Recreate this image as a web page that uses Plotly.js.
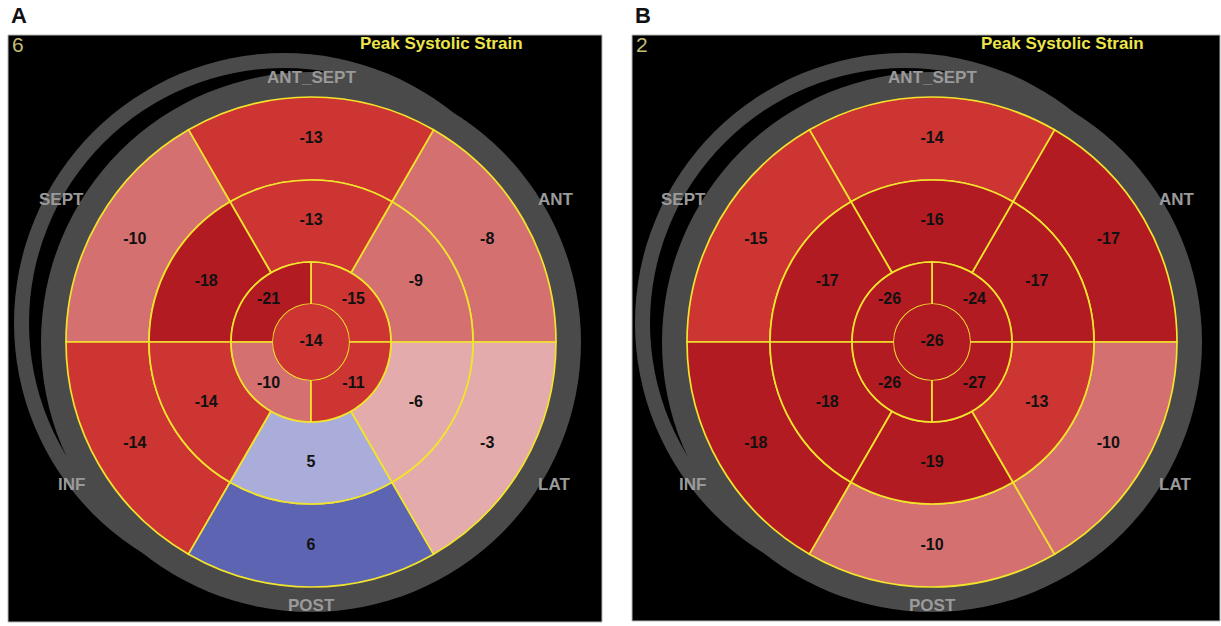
<!DOCTYPE html>
<html><head><meta charset="utf-8">
<script src="https://cdn.plot.ly/plotly-3.0.1.min.js"></script>
<style>html,body{margin:0;padding:0;background:#fff;}#chart{width:1221px;height:626px;}</style>
</head><body><div id="chart"></div>
<script>
// ---------------- DATA ----------------
const panelLetters = ['A', 'B'];
const frameNumbers = ['6', '2'];
const chartTitle = 'Peak Systolic Strain';
const wallLabels = ['ANT_SEPT', 'ANT', 'LAT', 'POST', 'INF', 'SEPT'];

// segment centre angles (degrees, counter-clockwise from 3 o'clock)
const basalAngles = [30, 90, 150, 210, 270, 330];
const midAngles = [30, 90, 150, 210, 270, 330];
const apicalAngles = [45, 135, 225, 315];
const apexAngles = [0];

// Panel A strain values (%)
const basalA = [-8, -13, -10, -14, 6, -3];
const midA = [-9, -13, -18, -14, 5, -6];
const apicalA = [-15, -21, -10, -11];
const apexA = [-14];

// Panel B strain values (%)
const basalB = [-17, -14, -15, -18, -10, -10];
const midB = [-17, -16, -17, -18, -19, -13];
const apicalB = [-24, -26, -26, -27];
const apexB = [-26];

// ---------------- STYLE / GEOMETRY ----------------
const W = 1221, H = 626;
const X = px => px / W;
const Y = py => 1 - py / H;
const R_MAX = 247;
const centers = [[311, 342], [932, 342]];
const rings = {apex: [0, 38], apical: [38, 80], mid: [80, 162], basal: [162, 245]};
const YELLOW = '#f2e42c';
const DK = '#b31b22', RED = '#cc3531', SAL = '#d4706f', PINK = '#e3abab', LAV = '#aaadd9', BLUE = '#5d64b2';
const CMIN = -30, CMAX = 10;
const nz = v => (v - CMIN) / (CMAX - CMIN);
const colorscale = [
  [0, DK], [nz(-15.5), DK], [nz(-15.5), RED], [nz(-10.5), RED], [nz(-10.5), SAL],
  [nz(-6.5), SAL], [nz(-6.5), PINK], [nz(-0.5), PINK], [nz(-0.5), LAV],
  [nz(5.5), LAV], [nz(5.5), BLUE], [1, BLUE]
];
const numFont = {family: 'Arial, "Liberation Sans", sans-serif', size: 16, color: '#111', weight: 'bold'};

const panels = [
  {basal: basalA, mid: midA, apical: apicalA, apex: apexA},
  {basal: basalB, mid: midB, apical: apicalB, apex: apexB}
];

const traces = [];
panels.forEach((p, i) => {
  const sub = i === 0 ? 'polar' : 'polar2';
  const ringDefs = [
    ['basal', p.basal, basalAngles, 60],
    ['mid', p.mid, midAngles, 60],
    ['apical', p.apical, apicalAngles, 90],
    ['apex', p.apex, apexAngles, 360]
  ];
  ringDefs.forEach(([name, vals, angs, w]) => {
    const [r0, r1] = rings[name];
    traces.push({
      type: 'barpolar', subplot: sub,
      theta: angs, r: vals.map(() => r1 - r0), base: vals.map(() => r0),
      width: vals.map(() => w),
      marker: {color: vals, colorscale: colorscale, cmin: CMIN, cmax: CMAX, showscale: false,
               line: {color: YELLOW, width: name === 'apex' ? 0 : 1.7}},
      hoverinfo: 'skip', showlegend: false
    });
  });
  ringDefs.forEach(([name, vals, angs]) => {
    const [r0, r1] = rings[name];
    const rm = name === 'apex' ? 0 : (name === 'apical' ? 60 : (r0 + r1) / 2);
    traces.push({
      type: 'scatterpolar', subplot: sub, mode: 'text',
      theta: angs, r: vals.map(() => rm), text: vals.map(String),
      textfont: numFont, cliponaxis: false, hoverinfo: 'skip', showlegend: false
    });
  });
});

function polarLayout(cx, cy) {
  return {
    domain: {x: [X(cx - R_MAX), X(cx + R_MAX)], y: [Y(cy + R_MAX), Y(cy - R_MAX)]},
    bgcolor: 'rgba(0,0,0,0)', hole: 0,
    radialaxis: {range: [0, R_MAX], visible: false, showgrid: false, showline: false, showticklabels: false},
    angularaxis: {visible: false, rotation: 0, direction: 'counterclockwise', showgrid: false, showline: false, showticklabels: false}
  };
}

const shapes = [];
const annotations = [];
const panelRects = [[8, 35, 602, 622], [632, 35, 1220, 621]];
function circ(cx, cy, r, color) {
  return {type: 'circle', xref: 'paper', yref: 'paper', layer: 'below',
          x0: X(cx - r), x1: X(cx + r), y0: Y(cy + r), y1: Y(cy - r),
          fillcolor: color, line: {width: 0}};
}
const labelFont = {family: 'Arial, "Liberation Sans", sans-serif', size: 17, color: '#9a9a9a', weight: 'bold'};
const labelOffsets = [[0, -264], [245, -142], [243, 142], [0, 263], [-240, 142], [-249, -142]];
const RING_GRAY = '#4a4a4a';

panelRects.forEach((rc, i) => {
  const [cx, cy] = centers[i];
  shapes.push({type: 'rect', xref: 'paper', yref: 'paper', layer: 'below',
               x0: X(rc[0]), x1: X(rc[2]), y0: Y(rc[3]), y1: Y(rc[1]),
               fillcolor: '#000', line: {color: '#b5b5b5', width: 1}});
  shapes.push(circ(cx - 27, cy - 19, 270, RING_GRAY));
  shapes.push(circ(cx - 27, cy - 19, 255, '#000'));
  shapes.push(circ(cx, cy, 270, RING_GRAY));

  annotations.push({text: panelLetters[i], xref: 'paper', yref: 'paper', x: X(rc[0] + 1), y: Y(15),
                    xanchor: 'left', yanchor: 'middle', showarrow: false,
                    font: {family: 'Arial, "Liberation Sans", sans-serif', size: 22, color: '#111', weight: 'bold'}});
  annotations.push({text: frameNumbers[i], xref: 'paper', yref: 'paper', x: X(rc[0] + 2), y: Y(45),
                    xanchor: 'left', yanchor: 'middle', showarrow: false,
                    font: {family: 'Arial, "Liberation Sans", sans-serif', size: 21, color: '#c4bd78'}});
  annotations.push({text: chartTitle, xref: 'paper', yref: 'paper', x: X(cx + 130), y: Y(43),
                    xanchor: 'center', yanchor: 'middle', showarrow: false,
                    font: {family: 'Arial, "Liberation Sans", sans-serif', size: 17, color: '#ece64c', weight: 'bold'}});
  wallLabels.forEach((t, k) => {
    annotations.push({text: t, xref: 'paper', yref: 'paper',
                      x: X(cx + labelOffsets[k][0]), y: Y(cy + labelOffsets[k][1]),
                      xanchor: 'center', yanchor: 'middle', showarrow: false, font: labelFont});
  });
});

const layout = {
  width: W, height: H, margin: {l: 0, r: 0, t: 0, b: 0, pad: 0},
  paper_bgcolor: '#fff', plot_bgcolor: 'rgba(0,0,0,0)',
  showlegend: false, hovermode: false,
  polar: polarLayout(centers[0][0], centers[0][1]),
  polar2: polarLayout(centers[1][0], centers[1][1]),
  shapes: shapes, annotations: annotations
};

Plotly.newPlot('chart', traces, layout, {displayModeBar: false, staticPlot: true});
</script>
</body></html>
